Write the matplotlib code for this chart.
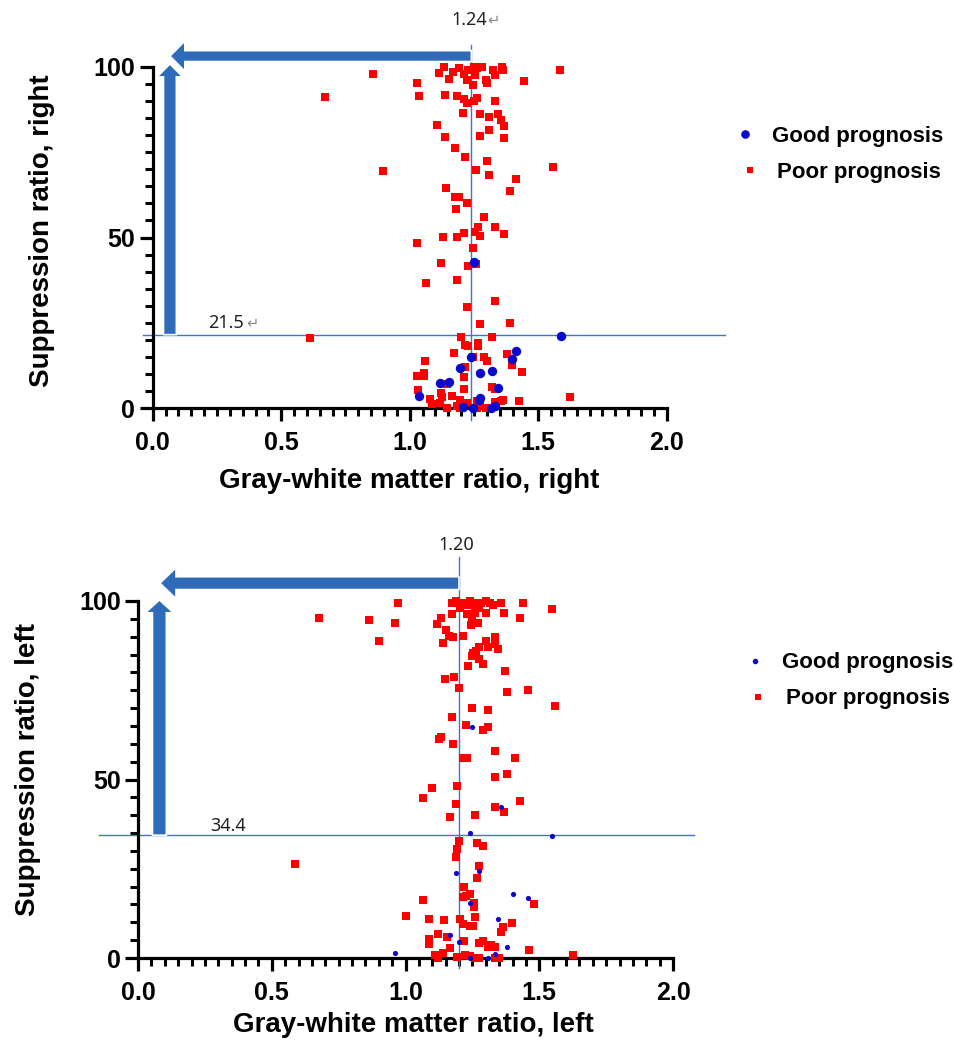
import matplotlib
matplotlib.use("Agg")
import matplotlib.pyplot as plt
from matplotlib.patches import FancyArrow
from matplotlib.lines import Line2D
from matplotlib.ticker import MultipleLocator, FormatStrFormatter

# ---------------- data: right hemisphere (top panel) ----------------
right_good_x = [1.250, 1.589, 1.414, 1.399, 1.237, 1.196, 1.320, 1.274, 1.118, 1.154,
                1.342, 1.037, 1.274, 1.270, 1.332, 1.248, 1.316, 1.209]
right_good_y = [42.7, 21.1, 16.7, 14.3, 15.0, 11.8, 10.8, 10.2, 7.2, 7.7,
                5.8, 3.6, 2.8, 2.3, 0.7, 0.0, 0.0, 0.4]

right_poor_x = [1.135, 1.115, 1.170, 1.192, 1.211, 1.228, 1.250, 1.263, 1.280, 1.254,
                1.224, 1.153, 1.297, 1.300, 1.325, 1.332, 1.358, 1.364, 1.585, 1.027,
                1.446, 1.036, 1.137, 1.185, 1.211, 1.224, 1.250, 1.263, 1.332, 1.248,
                1.206, 1.274, 1.307, 1.342, 1.354, 1.368, 1.105, 1.307, 1.137, 1.274,
                1.368, 1.176, 1.216, 1.300, 0.897, 1.257, 1.558, 1.307, 1.414, 1.140,
                1.390, 1.176, 1.192, 1.222, 1.180, 1.289, 1.265, 1.332, 0.857, 0.670,
                1.030, 1.131, 1.185, 1.211, 1.254, 1.274, 1.368, 1.248, 1.123, 1.226,
                1.258, 1.062, 1.184, 1.332, 1.224, 1.274, 1.390, 1.198, 1.320, 1.215,
                1.228, 1.265, 1.265, 1.171, 1.248, 1.289, 1.300, 1.377, 1.398, 1.438,
                1.058, 1.057, 1.057, 1.027, 1.215, 1.211, 1.145, 1.211, 1.319, 1.332,
                1.031, 1.121, 1.125, 1.163, 1.079, 1.088, 1.118, 1.196, 1.222, 1.185,
                1.261, 1.274, 1.297, 1.332, 1.355, 1.364, 1.427, 1.622, 1.144, 1.196,
                1.260, 0.612]
right_poor_y = [100.0, 98.3, 98.6, 99.6, 97.9, 99.1, 100.0, 99.6, 100.0, 97.7,
                96.2, 96.4, 96.2, 95.2, 99.1, 97.7, 100.0, 99.1, 99.1, 95.2,
                95.9, 91.6, 91.8, 91.6, 90.5, 89.4, 90.1, 90.8, 90.0, 94.7,
                86.4, 86.2, 85.4, 86.2, 84.5, 82.7, 83.0, 81.5, 79.4, 79.8,
                79.1, 76.2, 73.7, 72.5, 69.6, 69.8, 70.6, 68.3, 67.1, 64.6,
                63.7, 62.0, 62.0, 60.2, 58.4, 56.0, 53.2, 53.2, 97.9, 91.2,
                48.5, 50.1, 50.1, 51.2, 51.7, 50.5, 50.9, 46.8, 42.5, 41.6,
                42.1, 36.7, 37.5, 31.4, 29.6, 24.6, 24.8, 20.9, 20.9, 18.4,
                18.2, 19.0, 18.1, 16.0, 14.9, 14.9, 13.9, 15.7, 12.5, 10.6,
                13.7, 10.2, 9.5, 9.3, 11.9, 9.2, 6.9, 5.5, 6.2, 5.6,
                5.3, 4.3, 3.3, 3.5, 2.5, 1.2, 1.4, 2.3, 1.6, 0.7,
                2.1, 1.2, 0.0, 1.8, 2.1, 2.3, 2.1, 3.3, 0.0, 0.0,
                0.0, 20.4]

right_cut_x = 1.24
right_cut_y = 21.5

# ---------------- data: left hemisphere (bottom panel) ----------------
left_good_x = [1.250, 1.357, 1.241, 1.546, 1.276, 1.188, 1.401, 1.459, 1.241, 1.345,
               1.166, 1.200, 1.378, 0.961, 1.335, 1.310, 1.240]
left_good_y = [64.7, 42.4, 34.9, 34.2, 24.4, 23.7, 17.9, 16.7, 15.3, 10.9,
               6.4, 4.4, 3.2, 1.5, 1.0, 0.0, 0.0]

left_poor_x = [1.173, 1.210, 1.204, 1.229, 1.256, 1.284, 1.315, 1.357, 1.440, 1.546,
               1.229, 1.260, 1.247, 1.272, 1.246, 1.276, 1.173, 1.301, 1.328, 1.368,
               1.428, 1.133, 1.119, 1.152, 1.164, 1.179, 1.214, 1.139, 1.301, 1.334,
               1.334, 1.310, 1.347, 1.275, 1.264, 1.251, 1.248, 1.276, 1.291, 1.232,
               1.372, 1.148, 1.182, 1.201, 1.381, 1.459, 1.559, 1.250, 1.309, 1.173,
               1.226, 1.309, 1.291, 1.133, 1.125, 1.179, 1.334, 1.216, 1.229, 1.409,
               0.973, 0.678, 0.862, 0.961, 0.900, 1.190, 1.240, 1.300, 1.260,
               1.335, 1.378, 1.098, 1.194, 1.064, 1.428, 1.188, 1.335, 1.369, 1.260,
               1.166, 1.200, 1.266, 1.291, 1.193, 1.187, 1.276, 1.266, 1.219, 1.067,
               1.226, 1.241, 1.214, 1.257, 1.257, 1.480, 1.001, 1.089, 1.145, 1.204,
               1.260, 1.214, 1.241, 1.253, 1.399, 1.366, 1.356, 1.120, 1.157, 1.089,
               1.089, 1.219, 1.276, 1.291, 1.320, 1.335, 1.310, 1.166, 1.463, 1.110,
               1.141, 1.120, 1.191, 1.222, 1.240, 1.260, 1.276, 1.335, 1.350, 1.625,
               0.588]
left_poor_y = [99.5, 99.4, 98.0, 98.9, 99.5, 99.5, 99.5, 99.5, 99.5, 97.7,
               96.4, 96.6, 94.7, 93.9, 93.3, 98.0, 96.4, 96.6, 98.9, 96.6,
               95.2, 95.3, 93.6, 91.9, 90.3, 90.0, 90.2, 88.3, 88.8, 89.8,
               88.0, 87.0, 86.6, 87.0, 86.1, 85.3, 84.6, 83.7, 82.4, 81.9,
               80.4, 78.1, 78.6, 75.7, 74.5, 75.1, 70.6, 69.9, 69.4, 67.5,
               65.3, 64.7, 63.9, 62.0, 61.3, 59.9, 58.0, 55.9, 55.9, 55.9,
               99.5, 95.2, 94.7, 93.8, 88.8, 100.0, 100.0, 100.0, 98.0,
               50.8, 51.5, 47.7, 48.3, 44.7, 44.1, 43.1, 42.2, 41.0, 40.1,
               39.6, 32.9, 32.3, 31.4, 30.5, 28.4, 25.9, 22.5, 19.8, 16.2,
               17.4, 17.9, 17.0, 15.3, 14.2, 15.1, 11.9, 11.0, 10.6, 10.9,
               11.6, 9.5, 9.0, 9.0, 9.7, 8.6, 7.2, 6.7, 6.0, 5.3,
               3.9, 4.9, 4.3, 4.9, 3.6, 3.0, 3.0, 2.7, 2.2, 0.8,
               1.3, 0.0, 0.4, 0.8, 0.5, 0.0, 0.0, 0.0, 0.0, 0.8,
               26.2]

left_cut_x = 1.20
left_cut_y = 34.4

x_ticks = [0.0, 0.5, 1.0, 1.5, 2.0]
y_ticks = [0, 50, 100]
legend_labels = ["Good prognosis", "Poor prognosis"]

# ---------------- styling ----------------
plt.rcParams["font.family"] = ["Liberation Sans", "DejaVu Sans"]
plt.rcParams["font.weight"] = "bold"

RED = "#FF0000"
BLUE = "#0A0ACD"
LINE = "#3F72D4"
ARROW = "#2E6BB8"

W, H = 955, 1044
fig = plt.figure(figsize=(W / 100, H / 100), dpi=100)


def fx(px):
    return px / W


def fy(py):
    return 1 - py / H


ax1 = fig.add_axes([fx(152.7), fy(408), (666.7 - 152.7) / W, (408 - 67) / H])
ax2 = fig.add_axes([fx(138), fy(958), (673 - 138) / W, (958 - 601) / H])


def style(ax):
    ax.set_xlim(0, 2)
    ax.set_ylim(0, 100)
    for s in ["top", "right"]:
        ax.spines[s].set_visible(False)
    for s in ["left", "bottom"]:
        ax.spines[s].set_linewidth(2.3)
        ax.spines[s].set_capstyle("projecting")
    ax.set_xticks(x_ticks)
    ax.set_yticks(y_ticks)
    ax.xaxis.set_minor_locator(MultipleLocator(0.05))
    ax.yaxis.set_minor_locator(MultipleLocator(5))
    ax.xaxis.set_major_formatter(FormatStrFormatter("%.1f"))
    ax.tick_params(which="major", length=9.5, width=2.3, direction="out", labelsize=18)
    ax.tick_params(which="minor", length=6, width=2.2, direction="out")
    ax.tick_params(axis="x", which="major", pad=7)
    ax.tick_params(axis="y", which="major", pad=3)
    ax.patch.set_alpha(0)


style(ax1)
style(ax2)

# ---- top panel ----
ax1.plot([right_cut_x, right_cut_x], [-3.5, 106.5], color=LINE, lw=1.0, clip_on=False, zorder=2)
ax1.plot([-0.038, 2.227], [right_cut_y, right_cut_y], color=LINE, lw=1.0, clip_on=False, zorder=2)
ax1.scatter(right_poor_x, right_poor_y, s=27, marker="s", color=RED, linewidths=0, clip_on=False, zorder=3)
ax1.scatter(right_good_x, right_good_y, s=46, marker="o", color=BLUE, linewidths=0, clip_on=False, zorder=4)

ax1.add_patch(FancyArrow(right_cut_x, 103.2, 0.067 - right_cut_x, 0, width=3.2, head_width=8.8,
                         head_length=0.058, length_includes_head=True, color=ARROW,
                         ec="white", lw=1.2, clip_on=False, zorder=5))
ax1.add_patch(FancyArrow(0.067, right_cut_y, 0, 100.9 - right_cut_y, width=0.05, head_width=0.10,
                         head_length=3.8, length_includes_head=True, color=ARROW,
                         ec="white", lw=1.2, clip_on=False, zorder=6))

ax1.text(1.301, 113.8, "1.24", ha="right", va="center", fontsize=13, weight="normal",
         family="Noto Sans", color="#222222", clip_on=False)
ax1.text(1.303, 113.8, "\u21b5", ha="left", va="center", fontsize=10.5, weight="normal",
         family="DejaVu Sans", color="#888888", clip_on=False)
ax1.text(0.215, 25.0, "21.5", ha="left", va="center", fontsize=13, weight="normal",
         family="Noto Sans", color="#222222", clip_on=False)
ax1.text(0.363, 25.0, "\u21b5", ha="left", va="center", fontsize=10.5, weight="normal",
         family="DejaVu Sans", color="#888888", clip_on=False)

# ---- bottom panel ----
ax2.plot([left_cut_x, left_cut_x], [-2.8, 112.3], color=LINE, lw=1.0, clip_on=False, zorder=2)
ax2.plot([-0.145, 2.078], [left_cut_y, left_cut_y], color=LINE, lw=1.0, clip_on=False, zorder=2)
ax2.scatter(left_poor_x, left_poor_y, s=27, marker="s", color=RED, linewidths=0, clip_on=False, zorder=3)
ax2.scatter(left_good_x, left_good_y, s=14, marker="o", color=BLUE, linewidths=0, clip_on=False, zorder=4)

ax2.add_patch(FancyArrow(left_cut_x, 105.0, 0.082 - left_cut_x, 0, width=3.6, head_width=8.7,
                         head_length=0.06, length_includes_head=True, color=ARROW,
                         ec="white", lw=1.2, clip_on=False, zorder=5))
ax2.add_patch(FancyArrow(0.080, left_cut_y, 0, 100.3 - left_cut_y, width=0.052, head_width=0.105,
                         head_length=3.6, length_includes_head=True, color=ARROW,
                         ec="white", lw=1.2, clip_on=False, zorder=6))

ax2.text(1.191, 115.7, "1.20", ha="center", va="center", fontsize=13, weight="normal",
         family="Noto Sans", color="#222222", clip_on=False)
ax2.text(0.269, 37.0, "34.4", ha="left", va="center", fontsize=13, weight="normal",
         family="Noto Sans", color="#222222", clip_on=False)

# ---- axis labels ----
fig.text(fx(409), fy(481), "Gray-white matter ratio, right", ha="center", va="center", fontsize=20)
fig.text(fx(42), fy(231), "Suppression ratio, right", ha="center", va="center", fontsize=20, rotation=90)
fig.text(fx(413), fy(1025), "Gray-white matter ratio, left", ha="center", va="center", fontsize=20)
fig.text(fx(28), fy(770), "Suppression ratio, left", ha="center", va="center", fontsize=20, rotation=90)

# ---- legends ----
def legend_entry(mx, my, marker, msize, color, tx, ty_base, label):
    fig.add_artist(Line2D([fx(mx)], [fy(my)], marker=marker, markersize=msize, color=color,
                          markeredgewidth=0, linestyle="none", transform=fig.transFigure))
    fig.text(fx(tx), fy(ty_base), label, ha="left", va="baseline", fontsize=16)


legend_entry(745, 134, "o", 6.2, BLUE, 772, 141.7, legend_labels[0])
legend_entry(749.5, 170, "s", 4.0, RED, 777, 178.3, legend_labels[1])
legend_entry(755, 660.7, "o", 4.0, BLUE, 782, 668.3, legend_labels[0])
legend_entry(758.3, 696.7, "s", 4.6, RED, 786, 704, legend_labels[1])

fig.savefig("out.png", dpi=100)
